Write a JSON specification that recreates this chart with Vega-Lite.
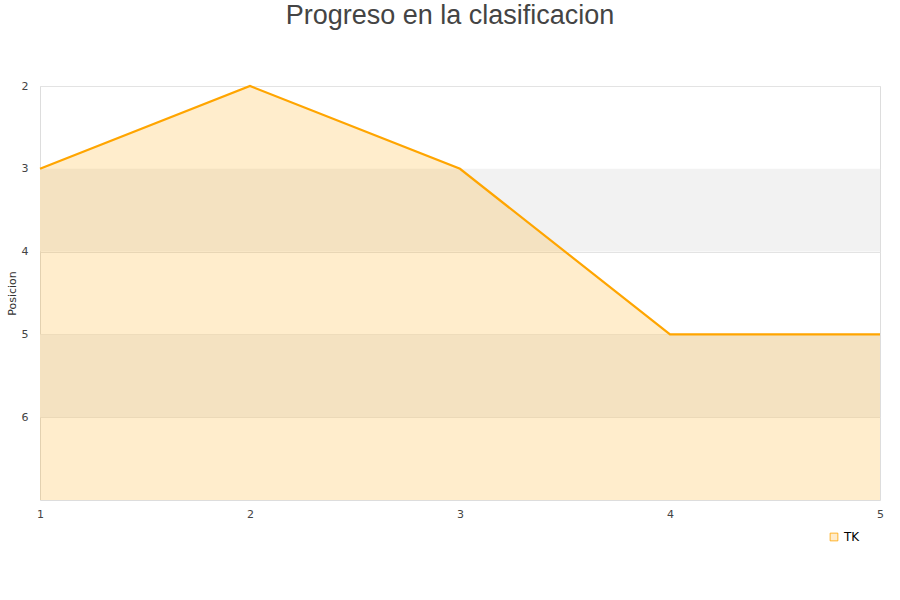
{
  "$schema": "https://vega.github.io/schema/vega-lite/v6.json",
  "width": 840,
  "height": 414,
  "autosize": {"type": "none"},
  "padding": {"left": 40, "top": 86, "right": 20, "bottom": 100},
  "background": "white",
  "title": {
    "text": "Progreso en la clasificacion",
    "font": "Liberation Sans",
    "fontSize": 27,
    "fontWeight": "normal",
    "color": "#444444",
    "anchor": "middle",
    "dx": -10,
    "offset": 50
  },
  "config": {
    "view": {"stroke": "#dddddd"},
    "axis": {
      "labelFont": "DejaVu Sans",
      "labelFontSize": 11,
      "labelColor": "#444444",
      "domain": false,
      "ticks": false,
      "titleFont": "DejaVu Sans",
      "titleFontWeight": "normal",
      "titleFontSize": 11,
      "titleColor": "#333333"
    }
  },
  "datasets": {
    "serie": [
      {"jornada": 1, "posicion": 3, "equipo": "TK"},
      {"jornada": 2, "posicion": 2, "equipo": "TK"},
      {"jornada": 3, "posicion": 3, "equipo": "TK"},
      {"jornada": 4, "posicion": 5, "equipo": "TK"},
      {"jornada": 5, "posicion": 5, "equipo": "TK"}
    ],
    "bandas": [
      {"desde": 3, "hasta": 4},
      {"desde": 5, "hasta": 6}
    ]
  },
  "layer": [
    {
      "data": {"name": "bandas"},
      "mark": {"type": "rect", "fill": "#f2f2f2"},
      "encoding": {
        "y": {"field": "desde", "type": "quantitative", "scale": {"domain": [2, 7], "reverse": true, "zero": false, "nice": false},
          "axis": {"values": [2, 3, 4, 5, 6], "format": "d", "title": "Posicion", "gridColor": "#e3e3e3", "labelPadding": 12, "titlePadding": 4}},
        "y2": {"field": "hasta"}
      }
    },
    {
      "data": {"name": "serie"},
      "mark": {"type": "area", "color": "#ffa500", "opacity": 0.2, "line": false},
      "encoding": {
        "x": {"field": "jornada", "type": "quantitative", "scale": {"domain": [1, 5], "nice": false, "zero": false},
          "axis": {"values": [1, 2, 3, 4, 5], "format": "d", "title": null, "grid": false, "labelFlush": false, "labelPadding": 8}},
        "y": {"field": "posicion", "type": "quantitative"},
        "y2": {"datum": 7}
      }
    },
    {
      "data": {"name": "serie"},
      "mark": {"type": "line", "strokeWidth": 2.2},
      "encoding": {
        "x": {"field": "jornada", "type": "quantitative"},
        "y": {"field": "posicion", "type": "quantitative"},
        "color": {"field": "equipo", "type": "nominal", "scale": {"range": ["#ffa500"]},
          "legend": {"title": null, "orient": "none", "legendX": 788, "legendY": 445, "symbolType": "square", "symbolSize": 60, "symbolFillColor": "#ffeccc", "symbolStrokeColor": "#8a7050", "symbolStrokeWidth": 0.8, "labelFont": "DejaVu Sans", "labelFontSize": 12, "labelColor": "#000000"}}
      }
    }
  ]
}
